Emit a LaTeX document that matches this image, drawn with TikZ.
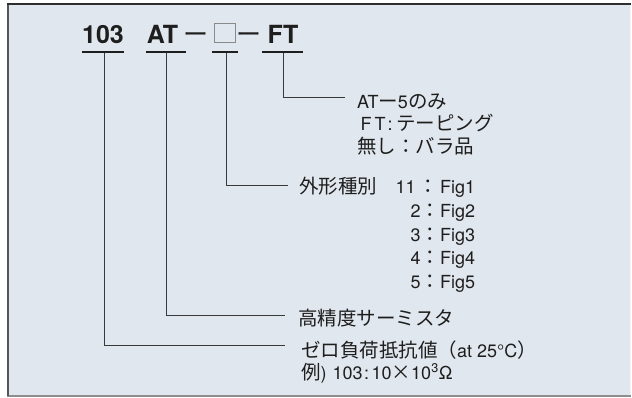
\documentclass[tikz,border=0pt]{standalone}
\usepackage{fontspec}
\setmainfont{TeX Gyre Heros}
\newfontfamily\cjk{Noto Sans CJK JP}
\newcommand\jp[1]{{\cjk\fontsize{19.5}{24}\selectfont #1}}
\definecolor{bg}{HTML}{E1E7EE}
\definecolor{ink}{HTML}{1E1E1E}
\definecolor{linec}{HTML}{3A3A3A}
\definecolor{boxc}{HTML}{8A8A8A}
\definecolor{frameTop}{HTML}{2E2E2E}
\definecolor{frameLeft}{HTML}{555555}
\definecolor{frameBot}{HTML}{8E8E8E}
\definecolor{frameRight}{HTML}{F2F4F6}
\begin{document}
\begin{tikzpicture}[x=1pt,y=-1pt,
  lbl/.style={anchor=base west, inner sep=0pt, text=ink, font=\fontsize{18}{22}\selectfont},
  ttl/.style={anchor=base, inner sep=0pt, text=ink, font=\fontsize{25}{30}\selectfont\bfseries},
  tdash/.style={anchor=base, inner sep=0pt, text=ink, font=\cjk\fontsize{25}{30}\selectfont},
  conn/.style={draw=linec, line width=0.9pt},
  uline/.style={draw=ink, line width=2.6pt},
]
\useasboundingbox (0,0) rectangle (632,397);
% frame
\fill[bg] (7,3) rectangle (631,396);
\draw[frameRight, line width=1.2pt] (630.5,3) -- (630.5,396);
\draw[frameBot, line width=2pt] (7,395.5) -- (631,395.5);
\draw[frameLeft, line width=2pt] (7.5,3) -- (7.5,396);
\draw[frameTop, line width=2pt] (7,3.5) -- (631,3.5);

% title
\node[ttl] (t103) at (103,43) {103};
\node[ttl] (tAT) at (162.5,43) {AT};
\node[tdash] (td1) at (195.5,43) {ー};
\node[draw=boxc, line width=1.3pt, minimum width=21pt, minimum height=19pt, inner sep=0pt] (tbox) at (225,33) {};
\node[tdash] (td2) at (248.5,43) {ー};
\node[ttl] (tFT) at (283,43) {FT};

% underlines
\draw[uline] (82,52) -- (124,52);
\draw[uline] (146,52) -- (186,52);
\draw[uline] (212,52) -- (238,52);
\draw[uline] (262,52) -- (303,52);

\coordinate (u103) at (104,53);
\coordinate (uAT) at (166,53);
\coordinate (ubox) at (226,53);
\coordinate (uFT) at (283,53);

\coordinate (eFT) at (345,97);
\coordinate (ebox) at (288,185);
\coordinate (eAT) at (285,315);
\coordinate (e103) at (285,345);

\draw[conn] (uFT) |- (eFT);
\draw[conn] (ubox) |- (ebox);
\draw[conn] (uAT) |- (eAT);
\draw[conn] (u103) |- (e103);

% FT labels
\node[lbl] (ft1) at (357,108) {AT\jp{ー}5\jp{のみ}};
\node[lbl] (ft2) at (360.5,130) {\makebox[14pt][l]{F}\makebox[11pt][l]{T}\makebox[9pt][c]{:}\hspace{1.5pt}\jp{テーピング}};
\node[lbl] (ft3) at (357,153) {\jp{無し：バラ品}};

% shape labels
\node[lbl] (bx0) at (299,193) {\jp{外形種別}};
\node[lbl] (bx1) at (390,193) {\makebox[25.5pt][r]{11}\hspace{2.5pt}\makebox[19.5pt][c]{\jp{：}}\hspace{2.5pt}Fig1};
\node[lbl] (bx2) at (390,217) {\makebox[30.5pt][r]{2}\makebox[19.5pt][c]{\jp{：}}Fig2};
\node[lbl] (bx3) at (390,241) {\makebox[30.5pt][r]{3}\makebox[19.5pt][c]{\jp{：}}Fig3};
\node[lbl] (bx4) at (390,264) {\makebox[30.5pt][r]{4}\makebox[19.5pt][c]{\jp{：}}Fig4};
\node[lbl] (bx5) at (390,288) {\makebox[30.5pt][r]{5}\makebox[19.5pt][c]{\jp{：}}Fig5};

% AT label
\node[lbl] (at1) at (298,325) {\jp{高精度サーミスタ}};

% 103 labels
\node[lbl] (r1) at (301,357) {\jp{ゼロ負荷抵抗値（}at 25°C\jp{）}};
\node[lbl] (r2) at (301,379) {\jp{例})\hspace{6pt}103\hspace{1.5pt}:\hspace{2.5pt}10\jp{×}10\textsuperscript{3}Ω};
\end{tikzpicture}
\end{document}
